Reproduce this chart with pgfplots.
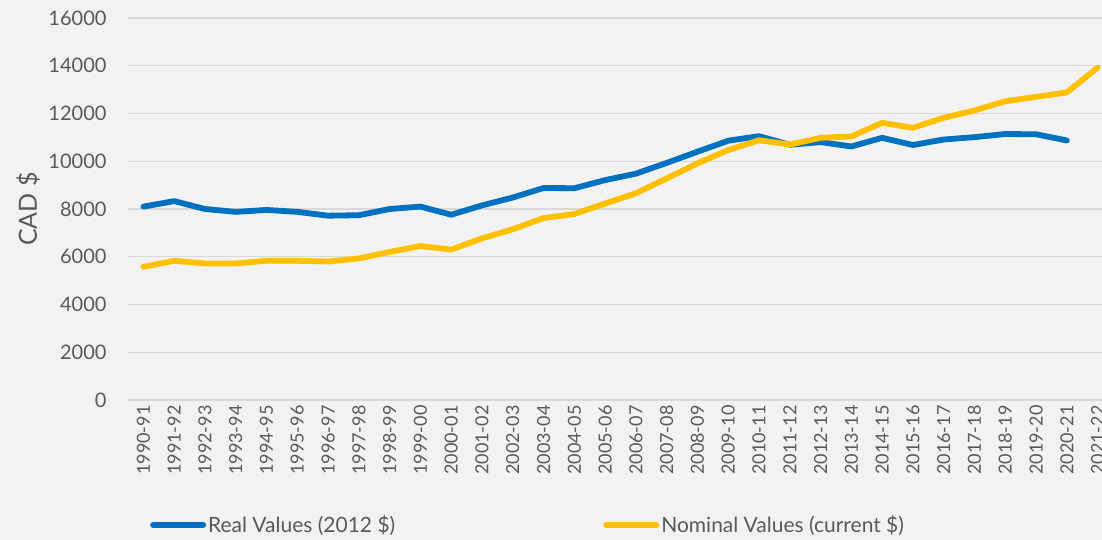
\documentclass[border=0pt]{standalone}
\usepackage{fontspec}
\setmainfont{Lato}
\usepackage{pgfplots}
\pgfplotsset{compat=1.18}
\definecolor{bg}{HTML}{F2F2F2}
\definecolor{gridc}{HTML}{D9D9D9}
\definecolor{txt}{HTML}{595959}
\definecolor{realc}{HTML}{0070C0}
\definecolor{nomc}{HTML}{FFC000}
\begin{document}
\begin{tikzpicture}[x=1pt,y=1pt]
\fill[bg] (0,0) rectangle (1102,540);
\begin{axis}[
  at={(128pt,140pt)}, anchor=south west,
  scale only axis, width=985pt, height=382pt,
  xmin=-0.5, xmax=31.5, ymin=0, ymax=16000,
  axis line style={draw=none},
  major tick length=0pt,
  ytick={0,2000,...,16000},
  scaled y ticks=false,
  ymajorgrids, grid style={gridc, line width=1.3pt},
  xtick={0,...,31},
  xticklabels={1990-91,1991-92,1992-93,1993-94,1994-95,1995-96,1996-97,1997-98,1998-99,1999-00,2000-01,2001-02,2002-03,2003-04,2004-05,2005-06,2006-07,2007-08,2008-09,2009-10,2010-11,2011-12,2012-13,2013-14,2014-15,2015-16,2016-17,2017-18,2018-19,2019-20,2020-21,2021-22},
  /pgf/number format/assume math mode=true,
  /pgf/number format/1000 sep={},
  yticklabel style={font=\fontsize{20pt}{23pt}\selectfont, text=txt, anchor=east, xshift=-18pt},
  xticklabel style={font=\fontsize{18pt}{21pt}\selectfont, text=txt, rotate=90, anchor=east, yshift=0pt, xshift=-2pt},
  every axis y label/.style={at={(axis description cs:0,0.5)}, rotate=90, anchor=center, yshift=100pt, text=txt},
  ylabel={\fontsize{25pt}{28pt}\selectfont CAD \$},
  legend columns=2,
  legend image code/.code={\draw[#1, line width=6pt, line cap=round] (0pt,0pt) -- (50pt,0pt);},
  legend style={draw=none, fill=none, inner sep=0pt, at={(0.0223,-0.3272)}, anchor=west,
    font=\fontsize{21pt}{24pt}\selectfont, text=txt,
    nodes={inner xsep=2pt, inner ysep=0pt},
    /tikz/every even column/.append style={column sep=206pt}},
  clip=false,
]
\addplot[realc, line width=5.8pt, line join=round, line cap=round] coordinates {
(0,8100)(1,8330)(2,8000)(3,7880)(4,7960)(5,7880)(6,7720)(7,7740)(8,8000)(9,8100)
(10,7760)(11,8150)(12,8480)(13,8880)(14,8870)(15,9210)(16,9480)(17,9930)(18,10400)(19,10860)
(20,11050)(21,10690)(22,10800)(23,10620)(24,10980)(25,10680)(26,10910)(27,11010)(28,11140)(29,11130)
(30,10870)};
\addlegendentry{Real Values (2012 \$)}
\addplot[nomc, line width=5.8pt, line join=round, line cap=round] coordinates {
(0,5580)(1,5830)(2,5720)(3,5720)(4,5830)(5,5830)(6,5800)(7,5930)(8,6200)(9,6450)
(10,6300)(11,6770)(12,7150)(13,7620)(14,7790)(15,8230)(16,8660)(17,9280)(18,9910)(19,10470)
(20,10880)(21,10700)(22,10980)(23,11040)(24,11610)(25,11400)(26,11820)(27,12130)(28,12510)(29,12700)
(30,12880)(31,13920)};
\addlegendentry{Nominal Values (current \$)}
\end{axis}
\pgfresetboundingbox
\path[use as bounding box] (0,0) rectangle (1102,540);
\end{tikzpicture}
\end{document}
